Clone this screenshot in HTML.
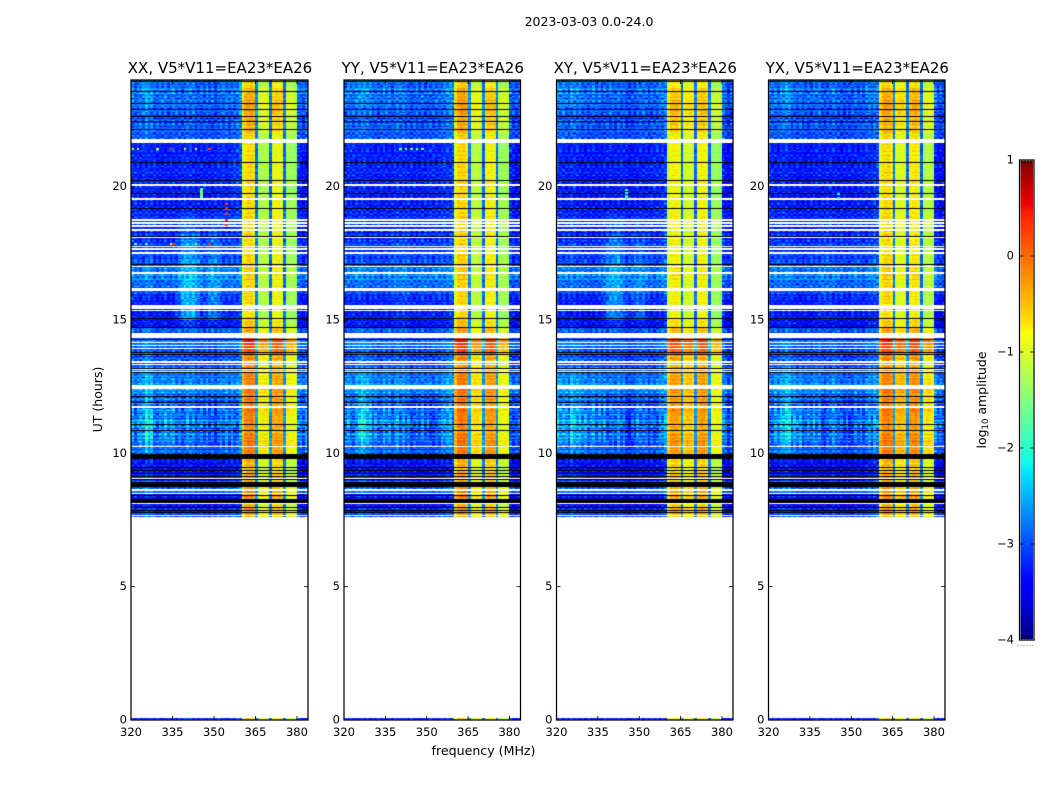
<!DOCTYPE html>
<html lang="en">
<head>
<meta charset="utf-8">
<title>2023-03-03 0.0-24.0</title>
<style>
html,body{margin:0;padding:0;background:#fff;}
#fig{position:relative;width:1050px;height:800px;overflow:hidden;background:#fff;}
canvas{position:absolute;display:block;}
svg{position:absolute;left:0;top:0;}
text{font-family:"DejaVu Sans","Liberation Sans",sans-serif;fill:#000;}
</style>
</head>
<body>
<div id="fig">
<svg id="ov" width="1050" height="800" viewBox="0 0 1050 800">
<defs>
<linearGradient id="jetGrad" x1="0" y1="1" x2="0" y2="0">
<stop offset="0" stop-color="rgb(0,0,128)"/>
<stop offset="0.11" stop-color="rgb(0,0,255)"/>
<stop offset="0.125" stop-color="rgb(0,0,255)"/>
<stop offset="0.34" stop-color="rgb(0,219,255)"/>
<stop offset="0.35" stop-color="rgb(0,229,247)"/>
<stop offset="0.375" stop-color="rgb(20,255,226)"/>
<stop offset="0.64" stop-color="rgb(255,255,8)" />
<stop offset="0.66" stop-color="rgb(255,226,0)"/>
<stop offset="0.89" stop-color="rgb(255,30,0)"/>
<stop offset="0.91" stop-color="rgb(232,0,0)"/>
<stop offset="1" stop-color="rgb(128,0,0)"/>
</linearGradient>
</defs>
<text x="589" y="26" font-size="12.5" text-anchor="middle">2023-03-03 0.0-24.0</text>
<text x="483.5" y="755" font-size="12.6" text-anchor="middle">frequency (MHz)</text>
<text transform="translate(102,399.5) rotate(-90)" font-size="12.5" text-anchor="middle">UT (hours)</text>
<text transform="translate(986,400) rotate(-90)" font-size="12.5" text-anchor="middle">log<tspan font-size="8.5" dy="2">10</tspan><tspan dy="-2"> amplitude</tspan></text>
</svg>
</div>
<script>
// ---- chart data ----
const panelTitles = ["XX, V5*V11=EA23*EA26","YY, V5*V11=EA23*EA26","XY, V5*V11=EA23*EA26","YX, V5*V11=EA23*EA26"];
const xTicks = [320,335,350,365,380];
const yTicks = [0,5,10,15,20];
const colorbarTicks = [1,0,-1,-2,-3,-4];
const colorbarTickLabels = ["1","0","\u22121","\u22122","\u22123","\u22124"];
const channelMHz = [320,321,322,323,324,325,326,327,328,329,330,331,332,333,334,335,336,337,338,339,340,341,342,343,344,345,346,347,348,349,350,351,352,353,354,355,356,357,358,359,360,361,362,363,364,365,366,367,368,369,370,371,372,373,374,375,376,377,378,379,380,381,382,383];
// quiet-time log10 amplitude per channel, one spectrum per polarisation
const spectrumXX = [-3.25,-3.25,-3.25,-3.3,-3.25,-3.2,-3.25,-3.25,-3.3,-3.3,-3.35,-3.3,-3.3,-3.35,-3.35,-3.3,-3.3,-3.3,-3.25,-3.25,-3.25,-3.25,-3.25,-3.3,-3.3,-3.35,-3.3,-3.3,-3.3,-3.3,-3.3,-3.25,-3.25,-3.25,-3.25,-3.25,-3.2,-3.2,-3.15,-3.1,-0.95,-0.68,-0.62,-0.62,-0.72,-2.85,-1.25,-1.2,-1.2,-1.25,-2.9,-0.88,-0.82,-0.82,-0.88,-2.9,-1.3,-1.3,-1.3,-1.4,-3.25,-3.35,-3.4,-3.35];
const spectrumYY = [-3.25,-3.25,-3.25,-3.25,-3.25,-3.25,-3.25,-3.25,-3.3,-3.3,-3.3,-3.3,-3.3,-3.3,-3.3,-3.3,-3.3,-3.3,-3.25,-3.25,-3.25,-3.25,-3.25,-3.3,-3.3,-3.3,-3.3,-3.3,-3.3,-3.3,-3.3,-3.25,-3.25,-3.25,-3.25,-3.25,-3.2,-3.2,-3.15,-3.1,-0.9,-0.62,-0.58,-0.58,-0.66,-2.8,-1.18,-1.12,-1.12,-1.2,-2.9,-0.88,-0.78,-0.78,-0.82,-2.9,-1.35,-1.3,-1.3,-1.35,-3.25,-3.35,-3.4,-3.35];
const spectrumXY = [-3.25,-3.25,-3.25,-3.3,-3.3,-3.25,-3.25,-3.3,-3.3,-3.35,-3.35,-3.35,-3.35,-3.35,-3.35,-3.35,-3.35,-3.35,-3.3,-3.3,-3.3,-3.3,-3.3,-3.3,-3.3,-3.35,-3.35,-3.35,-3.35,-3.35,-3.3,-3.3,-3.3,-3.3,-3.3,-3.25,-3.25,-3.25,-3.2,-3.15,-1.05,-0.8,-0.78,-0.78,-0.86,-2.85,-1.08,-1.0,-1.0,-1.08,-2.9,-0.88,-0.78,-0.78,-0.88,-2.9,-1.4,-1.32,-1.32,-1.4,-3.3,-3.4,-3.45,-3.4];
const spectrumYX = [-3.25,-3.25,-3.3,-3.3,-3.25,-3.25,-3.25,-3.3,-3.3,-3.35,-3.35,-3.35,-3.35,-3.35,-3.35,-3.35,-3.35,-3.3,-3.3,-3.3,-3.3,-3.3,-3.3,-3.3,-3.3,-3.35,-3.35,-3.35,-3.35,-3.35,-3.3,-3.3,-3.3,-3.3,-3.3,-3.25,-3.25,-3.25,-3.2,-3.15,-0.95,-0.66,-0.62,-0.62,-0.72,-2.85,-0.98,-0.92,-0.92,-1.0,-2.9,-0.78,-0.72,-0.68,-0.78,-2.9,-1.25,-1.15,-1.15,-1.25,-3.3,-3.4,-3.45,-3.4];
// quarter-hour blocks from 24 h downward: out-of-band offset, in-band offset, left-side boost, sky blob
const blockBgOffset = [.35,.45,.4,.4,.35,.25,.3,.35,.3,0,.05,.05,.05,.05,0,0,.05,.05,0,.05,.1,.05,.05,.1,.15,.15,.2,.25,.45,.5,.4,.3,.05,.05,0,0,-.1,.3,.35,.45,.35,.2,.35,.45,.45,.5,.5,.3,.3,.4,.35,.45,.4,.4,.35,.3,.05,-.1,-.2,.1,.25,.3,-.1,0,.1,.1];
const blockBandOffset = [.05,.2,.3,.35,.35,.3,.25,.2,.05,0,0,0,.05,0,0,0,0,.05,0,0,.05,0,0,.05,0,0,.05,.05,.1,.1,.05,.05,0,.05,0,0,.15,.35,.8,1.0,.85,.45,.4,.6,.5,.5,.55,.5,.55,.6,.5,.45,.45,.55,.6,.5,.3,.2,.1,.35,.3,.4,.45,.3,.45,.2];
const blockLeftBoost = [.2,.25,.25,.2,.15,.15,.15,.1,.05,0,0,0,0,0,0,0,0,0,0,0,0,0,0,0,.05,.05,.05,.05,.1,.1,.05,0,0,0,0,0,.1,.15,.1,.15,.15,.2,.2,.25,.3,.25,.3,.4,.45,.5,.55,.6,.65,.6,.45,.3,.1,.1,.1,.15,.2,.15,.1,.1,.15,.15];
const blockBlob = [0,0,0,0,0,0,0,0,0,0,0,0,0,0,0,0,0,0,0,0,.15,.25,.3,.5,.6,.55,.6,.65,.5,.5,.6,.8,.9,.95,1,.9,.3,.1,0,0,0,0,0,0,0,0,0,0,0,0,0,0,0,0,0,0,0,0,0,0,0,0,0,0,0,0];
const blobPanelAmp = [.75,.12,.6,.12];
const channelLeftShape = [.3,.3,.35,.4,.55,1,1,.9,.55,.45,.5,.45,.35,.35,.35,.3,.3,.25,.2,.2,.15,.1,.1,.1,.05,0,0,0,0,0,0,0,0,0,0,.05,.1,.15,.2,.25,0,0,0,0,0,0,0,0,0,0,0,0,0,0,0,0,0,0,0,0,.2,.2,.15,.2];
const channelBlobShape = [0,0,0,0,0,0,0,0,0,0,0,0,0,0,0,.05,.15,.45,.8,1,1,1,1,.8,.55,.35,.25,.35,.6,.7,.7,.55,.3,.1,0,0,0,0,0,0,0,0,0,0,0,0,0,0,0,0,0,0,0,0,0,0,0,0,0,0,0,0,0,0];
// visually read texture, repeating along time and along frequency
const rowTexture = [.4,-.6,.2,.9,-.3,.1,-.8,.5,-.2,.7,-.5,.3,-.9,.6,.05,-.4,.8,-.15,-.7,.35,.55,-.95,.15,.65,-.25,-.55,.45,.1,.85,-.65,.25,-.35,.75,-.85,.5,-.1,.3];
const channelTexture = [.6,-.4,.9,-.7,.2,-.9,.5,.1,-.6,.8,-.2,-.8,.4,.7,-.5,.3,-.95,.55,-.1,.85,-.3,.15,-.75,.65,-.45,.95,-.15,.35,-.65];
const rowStripe = [.05,-.08,.12,-.02,-.1,.1,.02,-.14,.08,.15,-.06,-.12,.04,.18,-.04,-.1,.02,.1,-.16,.06,.12,-.08,0,-.12,.14,.03,-.05,.09,-.13,.07,.16];
// flagged integrations (hours UT) rendered white and black
const whiteHours = [21.79,21.76,21.72,21.68,20.1,20.07,19.58,19.55,18.79,18.76,18.67,18.64,18.56,18.53,18.41,18.38,18.11,17.79,17.76,17.7,17.67,17.56,17.53,17.03,16.8,16.77,16.2,16.17,16.13,15.56,15.53,15.49,15.46,15.39,15.36,14.51,14.47,14.43,14.39,14.35,14.18,14.06,13.95,13.46,13.41,13.35,13.16,13.09,12.56,12.53,12.49,12.46,11.78,11.74,10.29,10.26,9.83,9.08,8.66,8.63,8.53,8.51,8.14,7.69];
const blackHours = [23.96,23.6,23.14,22.93,22.65,22.46,22.16,20.93,20.25,19.76,19.2,18.16,17.1,15.08,14.74,14.29,13.8,13.73,13.2,13.06,12.15,11.93,11.1,10.88,9.98,9.94,9.91,9.87,9.83,9.49,9.38,9.26,9.15,9.02,8.93,8.89,8.85,8.81,8.78,8.44,8.29,8.25,8.2,8.17,7.99,7.88,7.8];
// isolated interference cells
const rfiPanel = [0,0,0,0,0,0,0,0,0,0,0,0,0,0,0,0,0,0,0,0,0,0,0,1,1,1,1,1,2,2,2,2,3,3];
const rfiHour = [21.45,21.45,21.45,21.45,21.45,21.45,21.45,19.95,19.88,19.8,19.72,19.65,19.4,19.2,19.0,18.8,18.6,17.9,17.9,17.9,17.9,17.9,17.9,21.45,21.45,21.45,21.45,21.45,19.9,19.8,19.7,19.6,19.75,19.6];
const rfiMHz = [320,322,329,334,339,343,348,345,345,345,345,345,354,354,354,354,354,321,325,334,335,343,348,340,342,344,346,348,345,345,345,345,345,345];
const rfiValue = [-1.4,-1.2,-.9,.25,-1,-1,.2,-1.6,-1.5,-1.6,-1.5,-1.6,.2,.3,.2,.3,.2,-1.3,-1.5,-.9,.2,-1,.2,-1.5,-1.4,-1.5,-1.6,-1.6,-1.9,-1.9,-1.9,-1.9,-2,-2];
const bottomRowHours = [0.06,0.02];
// ---- axis geometry ----
const panelLeft = [131,344,556.5,768.5];
const panelRight = [308,520.5,733,945];
const plotTop = 80, plotBottom = 720, hourMax = 24, mhzMin = 320, mhzMax = 384;
const lowestData = 7.6, dt = 0.0375, blockHours = 0.25;
const SVGNS = "http://www.w3.org/2000/svg";
const ov = document.getElementById("ov");
const fig = document.getElementById("fig");
const spectra = [spectrumXX,spectrumYY,spectrumXY,spectrumYX];
function xScale(p,mhz){return panelLeft[p]+(mhz-mhzMin)/(mhzMax-mhzMin)*(panelRight[p]-panelLeft[p]);}
function yScale(h){return plotBottom-h/hourMax*(plotBottom-plotTop);}
function cbScale(v){return 640-(v+4)/5*480;}
function lerp(pts,t){for(let i=1;i<pts.length;i++){if(t<=pts[i][0]){const a=pts[i-1],b=pts[i];return a[1]+(b[1]-a[1])*(t-a[0])/(b[0]-a[0]);}}return pts[pts.length-1][1];}
const jetR=[[0,0],[.35,0],[.66,1],[.89,1],[1,.5]],jetG=[[0,0],[.125,0],[.375,1],[.64,1],[.91,0],[1,0]],jetB=[[0,.5],[.11,1],[.34,1],[.65,0],[1,0]];
function jet(v){const t=Math.max(0,Math.min(1,(v+4)/5));return "rgb("+Math.round(255*lerp(jetR,t))+","+Math.round(255*lerp(jetG,t))+","+Math.round(255*lerp(jetB,t))+")";}
function isBand(c){return c>=40&&c<=59;}
function rowOf(h){return Math.round((hourMax-h)/dt);}
const rowFlags={};
whiteHours.forEach(function(h){rowFlags[rowOf(h)]="w";});
blackHours.forEach(function(h){rowFlags[rowOf(h)]="k";});
function cellValue(p,r,c,block){
  const tex=rowTexture[r%rowTexture.length]*channelTexture[(c+p*7+r*3)%channelTexture.length];
  const stripe=rowStripe[r%rowStripe.length];
  const lower=blockLeftBoost[block];
  if(isBand(c)&&spectra[p][c]>-2){return spectra[p][c]+blockBandOffset[block]+tex*.22+stripe*.9;}
  if(isBand(c)){return spectra[p][c]+blockBandOffset[block]*.5+tex*.3;}
  const streak=channelTexture[(c*5+p)%channelTexture.length]*lower*.5;
  return spectra[p][c]+blockBgOffset[block]+lower*channelLeftShape[c]+streak+blockBlob[block]*channelBlobShape[c]*blobPanelAmp[p]+tex*.6+stripe*(.8+lower*2);
}
function drawPanel(p){
  const L=Math.floor(panelLeft[p]),W=Math.ceil(panelRight[p])-L,H=plotBottom-plotTop;
  const cv=document.createElement("canvas");
  
  
  cv.width=W;cv.height=H;cv.style.left=L+"px";cv.style.top=plotTop+"px";
  fig.insertBefore(cv,ov);
  const g=cv.getContext("2d");
  g.fillStyle="#fff";g.fillRect(0,0,W,H);
  const nRows=Math.floor((hourMax-lowestData)/dt);
  function cell(c,y,h,v){
    const x0=Math.round(xScale(p,channelMHz[c]))-L,x1=Math.round(xScale(p,channelMHz[c]+1))-L;
    g.fillStyle=jet(v);g.fillRect(x0,y,x1-x0,h);
  }
  for(let r=0;r<nRows;r++){
    const hour=hourMax-r*dt;
    const y=Math.round(yScale(hour))-plotTop;
    const f=rowFlags[r];
    if(f==="w")continue;
    if(f==="k"){g.fillStyle="#000";g.fillRect(0,y,W,1);continue;}
    const block=Math.min(blockBgOffset.length-1,Math.floor((hourMax-hour)/blockHours));
    for(let c=0;c<channelMHz.length;c++){cell(c,y,1,cellValue(p,r,c,block));}
  }
  rfiHour.forEach(function(h,i){
    if(rfiPanel[i]!==p)return;
    cell(channelMHz.indexOf(rfiMHz[i]),Math.round(yScale(h))-plotTop,2,rfiValue[i]);
  });
  bottomRowHours.forEach(function(h,i){
    const y=Math.round(yScale(h))-plotTop;
    for(let c=0;c<channelMHz.length;c++){cell(c,y,1,cellValue(p,i*13,c,20)+(i?.2:0));}
  });
}
function addLine(x1,y1,x2,y2,w,col,name){
  const l=document.createElementNS(SVGNS,"line");
  l.setAttribute("x1",x1);l.setAttribute("y1",y1);l.setAttribute("x2",x2);l.setAttribute("y2",y2);
  l.setAttribute("stroke",col);l.setAttribute("stroke-width",w);
  
  
  ov.appendChild(l);
}
function addText(x,y,s,size,anchor,name){
  const t=document.createElementNS(SVGNS,"text");
  t.setAttribute("x",x);t.setAttribute("y",y);t.setAttribute("font-size",size);t.setAttribute("text-anchor",anchor);
  t.textContent=s;
  
  
  ov.appendChild(t);
}
function addRect(x,y,w,h,fill,stroke,sw,name){
  const t=document.createElementNS(SVGNS,"rect");
  t.setAttribute("x",x);t.setAttribute("y",y);t.setAttribute("width",w);t.setAttribute("height",h);
  t.setAttribute("fill",fill);t.setAttribute("stroke",stroke);t.setAttribute("stroke-width",sw);
  
  
  ov.appendChild(t);
}
panelTitles.forEach(function(title,p){
  drawPanel(p);
  const L=panelLeft[p],R=panelRight[p];
  addRect(L,plotTop,R-L,plotBottom-plotTop,"none","#000",1.25,"panel-frame");
  addText((L+R)/2+0.5,73,title,15,"middle","panel-title");
  xTicks.forEach(function(v){
    const x=xScale(p,v);
    addLine(x,plotBottom,x,plotBottom-4,0.8,"#000","x-tick-bottom");
    addLine(x,plotTop,x,plotTop+4,0.8,"#000","x-tick-top");
    addText(x,736,String(v),11.5,"middle","x-tick-label");
  });
  yTicks.forEach(function(v){
    const y=yScale(v);
    addLine(L,y,L+4,y,0.8,"#000","y-tick-left");
    addLine(R,y,R-4,y,0.8,"#000","y-tick-right");
    addText(L-4,y+3.5,String(v),11.5,"end","y-tick-label");
  });
});
// colorbar
addRect(1019.5,160,14.5,480,"url(#jetGrad)","#bbb",2,"colorbar");
addRect(1019.5,160,14.5,480,"none","#000",1,"colorbar-frame");
colorbarTicks.forEach(function(v,i){
  const y=cbScale(v);
  addLine(1019.5,y,1023.5,y,0.8,"#000","colorbar-tick-left");
  addLine(1034,y,1030,y,0.8,"#000","colorbar-tick-right");
  addText(1014,y+3.5,colorbarTickLabels[i],11.5,"end","colorbar-tick-label");
});
[1022,1025,1028,1031].forEach(function(x){
  addLine(x,160,x,164,0.8,"#000","colorbar-minor-top");
  addLine(x,640,x,636,0.8,"#000","colorbar-minor-bottom");
});
[1018,1021,1024,1027,1030,1033].forEach(function(x){
  addLine(x,645,x,646,1,"#777","colorbar-minor-dot");
});
</script>
</body>
</html>
